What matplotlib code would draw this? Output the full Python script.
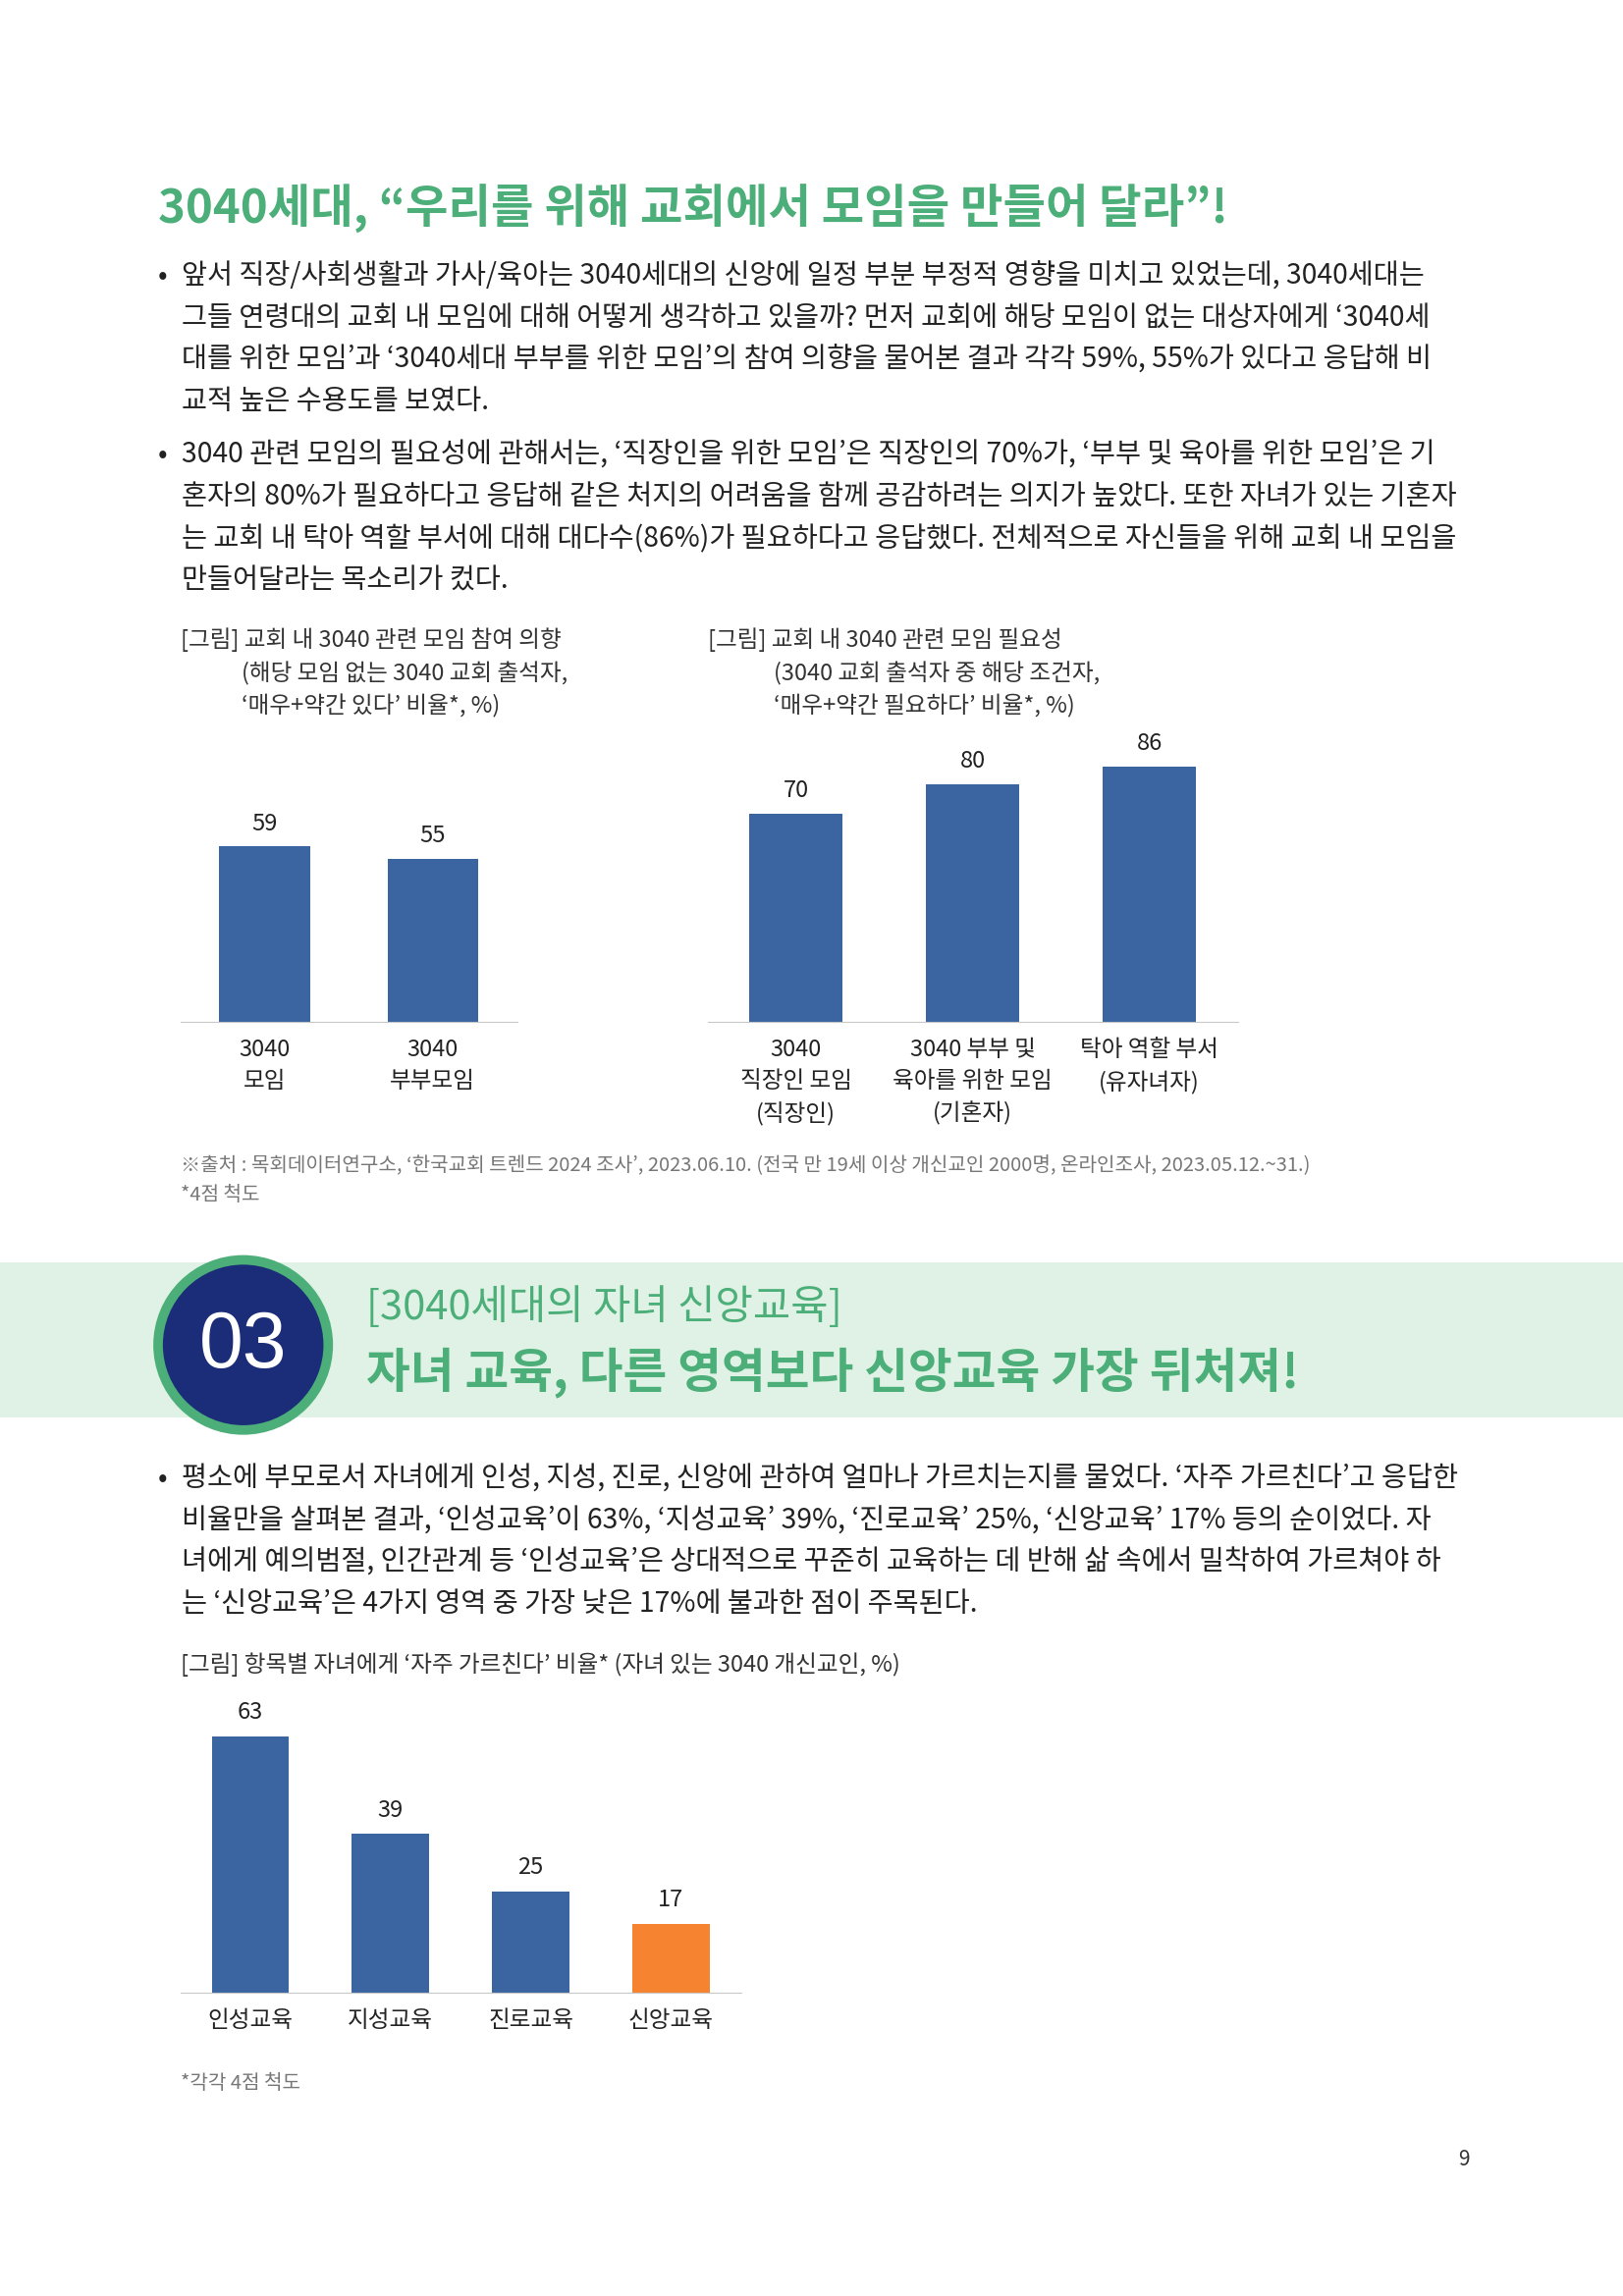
import matplotlib
matplotlib.use("Agg")
import matplotlib.pyplot as plt
from matplotlib.patches import Rectangle, Circle

plt.rcParams["font.family"] = "Noto Sans CJK KR"

# ---- data ----
c1_labels = ["3040\n모임", "3040\n부부모임"]
c1_values = [59, 55]
c2_labels = ["3040\n직장인 모임\n(직장인)", "3040 부부 및\n육아를 위한 모임\n(기혼자)", "탁아 역할 부서\n(유자녀자)"]
c2_values = [70, 80, 86]
c3_labels = ["인성교육", "지성교육", "진로교육", "신앙교육"]
c3_values = [63, 39, 25, 17]

BLUE = "#3a65a0"
ORANGE = "#f5832f"
GREEN = "#4cae78"
TXT = "#222222"

W, H = 1108, 1568
fig = plt.figure(figsize=(16.53, 23.39), dpi=100)
def X(x): return x / W
def Y(y): return 1 - y / H

fig.text(X(108), Y(143), "3040세대, “우리를 위해 교회에서 모임을 만들어 달라”!", color=GREEN,
         fontsize=34, fontweight="bold", va="center", ha="left")

body = 20.4
para1 = ["앞서 직장/사회생활과 가사/육아는 3040세대의 신앙에 일정 부분 부정적 영향을 미치고 있었는데, 3040세대는",
         "그들 연령대의 교회 내 모임에 대해 어떻게 생각하고 있을까? 먼저 교회에 해당 모임이 없는 대상자에게 ‘3040세",
         "대를 위한 모임’과 ‘3040세대 부부를 위한 모임’의 참여 의향을 물어본 결과 각각 59%, 55%가 있다고 응답해 비",
         "교적 높은 수용도를 보였다."]
para2 = ["3040 관련 모임의 필요성에 관해서는, ‘직장인을 위한 모임’은 직장인의 70%가, ‘부부 및 육아를 위한 모임’은 기",
         "혼자의 80%가 필요하다고 응답해 같은 처지의 어려움을 함께 공감하려는 의지가 높았다. 또한 자녀가 있는 기혼자",
         "는 교회 내 탁아 역할 부서에 대해 대다수(86%)가 필요하다고 응답했다. 전체적으로 자신들을 위해 교회 내 모임을",
         "만들어달라는 목소리가 컸다."]
para3 = ["평소에 부모로서 자녀에게 인성, 지성, 진로, 신앙에 관하여 얼마나 가르치는지를 물었다. ‘자주 가르친다’고 응답한",
         "비율만을 살펴본 결과, ‘인성교육’이 63%, ‘지성교육’ 39%, ‘진로교육’ 25%, ‘신앙교육’ 17% 등의 순이었다. 자",
         "녀에게 예의범절, 인간관계 등 ‘인성교육’은 상대적으로 꾸준히 교육하는 데 반해 삶 속에서 밀착하여 가르쳐야 하",
         "는 ‘신앙교육’은 4가지 영역 중 가장 낮은 17%에 불과한 점이 주목된다."]
for lines, y0 in [(para1, 189), (para2, 311), (para3, 1010)]:
    fig.text(X(108), Y(y0), "•", fontsize=body, color=TXT, va="center")
    for i, l in enumerate(lines):
        fig.text(X(124), Y(y0 + i * 28.5), l, fontsize=body, color=TXT, va="center")

cap = 17
fig.text(X(123), Y(437), "[그림] 교회 내 3040 관련 모임 참여 의향", fontsize=cap, color="#333", va="center")
fig.text(X(165), Y(460), "(해당 모임 없는 3040 교회 출석자,", fontsize=cap, color="#333", va="center")
fig.text(X(165), Y(482), "‘매우+약간 있다’ 비율*, %)", fontsize=cap, color="#333", va="center")
fig.text(X(483), Y(437), "[그림] 교회 내 3040 관련 모임 필요성", fontsize=cap, color="#333", va="center")
fig.text(X(528), Y(460), "(3040 교회 출석자 중 해당 조건자,", fontsize=cap, color="#333", va="center")
fig.text(X(528), Y(482), "‘매우+약간 필요하다’ 비율*, %)", fontsize=cap, color="#333", va="center")

def bar_ax(x0, x1, ytop, ybase, vals, labels, colors, ylim, width, lab_fs, val_fs):
    ax = fig.add_axes([X(x0), Y(ybase), X(x1) - X(x0), Y(ytop) - Y(ybase)])
    xs = list(range(len(vals)))
    ax.bar(xs, vals, width=width, color=colors)
    ax.set_ylim(0, ylim)
    ax.set_xlim(-0.5, len(vals) - 0.5)
    for s in ["top", "right", "left"]:
        ax.spines[s].set_visible(False)
    ax.spines["bottom"].set_color("#c8c8c8")
    ax.set_yticks([])
    ax.set_xticks(xs)
    ax.set_xticklabels(labels, fontsize=lab_fs, color=TXT, linespacing=1.5)
    ax.tick_params(axis="x", length=0, pad=12)
    for x, v in zip(xs, vals):
        ax.text(x, v + ylim * 0.04, str(v), ha="center", va="bottom", fontsize=val_fs, color=TXT)
    return ax

bar_ax(123, 353, 500, 698, c1_values, c1_labels, [BLUE] * 2, 97.5, 0.54, 17, 17)
bar_ax(483, 845, 500, 698, c2_values, c2_labels, [BLUE] * 3, 97.5, 0.53, 17, 17)

fig.text(X(123), Y(796), "※출처 : 목회데이터연구소, ‘한국교회 트렌드 2024 조사’, 2023.06.10. (전국 만 19세 이상 개신교인 2000명, 온라인조사, 2023.05.12.~31.)",
         fontsize=14.5, color="#777", va="center")
fig.text(X(123), Y(816), "*4점 척도", fontsize=14.5, color="#777", va="center")

# section band
fig.patches.append(Rectangle((0, Y(968)), 1, Y(862) - Y(968), transform=fig.transFigure,
                             facecolor="#dff2e5", edgecolor="none", zorder=0))
cax = fig.add_axes([X(100), Y(985), X(232) - X(100), Y(852) - Y(985)], zorder=5)
cax.set_xlim(-1, 1); cax.set_ylim(-1, 1); cax.set_aspect("equal"); cax.axis("off")
cax.patch.set_alpha(0)
cax.add_patch(Circle((0, 0), 0.88, facecolor="#1b2c78", edgecolor="#4cae78", linewidth=7))
cax.text(0, -0.02, "03", color="white", fontsize=58, ha="center", va="center", fontfamily="Liberation Sans")
fig.text(X(250), Y(893), "[3040세대의 자녀 신앙교육]", fontsize=30, color=GREEN, va="center")
fig.text(X(250), Y(937), "자녀 교육, 다른 영역보다 신앙교육 가장 뒤처져!", fontsize=35, color=GREEN,
         fontweight="bold", va="center")

fig.text(X(123), Y(1137), "[그림] 항목별 자녀에게 ‘자주 가르친다’ 비율* (자녀 있는 3040 개신교인, %)",
         fontsize=cap, color="#333", va="center")
bar_ax(123, 506, 1150, 1361, c3_values, c3_labels, [BLUE] * 3 + [ORANGE], 75.9, 0.55, 17, 17)
fig.text(X(123), Y(1423), "*각각 4점 척도", fontsize=14.5, color="#777", va="center")
fig.text(X(1003), Y(1475), "9", fontsize=15, color="#333", va="center", ha="right")

fig.savefig("out.png", dpi=100, facecolor="white")
